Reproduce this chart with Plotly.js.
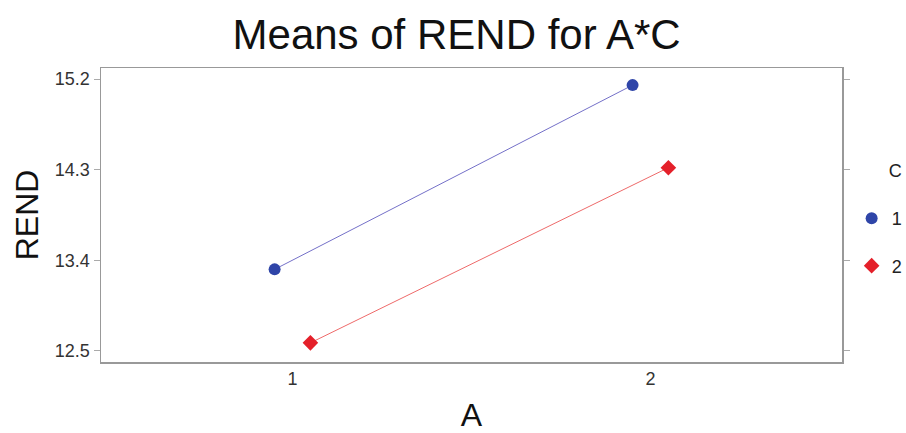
<!DOCTYPE html>
<html><head><meta charset="utf-8">
<script src="https://cdn.plot.ly/plotly-3.0.1.min.js"></script>
<style>html,body{margin:0;padding:0;background:#fff}</style>
</head><body>
<div id="chart" style="width:906px;height:433px"></div>
<script>
const levelsA = [1, 2];
const levelsC = ['1', '2'];
const meansC1 = [13.31, 15.14];
const meansC2 = [12.58, 14.32];
const dodge = [-0.05, 0.05];
const colors = ['#2f45a8', '#e4202a'];
const lineColors = ['#7470c8', '#ee6a6a'];
const symbols = ['circle', 'diamond'];
const series = [meansC1, meansC2];

const traces = [];
series.forEach((ys, i) => {
  const xs = levelsA.map(a => a + dodge[i]);
  traces.push({
    type: 'scatter', mode: 'lines', x: xs, y: ys, showlegend: false,
    line: {color: lineColors[i], width: 1}, hoverinfo: 'skip'
  });
  traces.push({
    type: 'scatter', mode: 'markers', x: xs, y: ys,
    name: levelsC[i], legendgroup: 'g' + i,
    marker: {color: colors[i], symbol: symbols[i], size: 12}
  });
});

const layout = {
  width: 906, height: 433,
  paper_bgcolor: '#ffffff', plot_bgcolor: '#ffffff',
  margin: {l: 101, r: 64, t: 68, b: 71, autoexpand: false},
  font: {family: 'Liberation Sans, Arial, sans-serif', color: '#333'},
  title: {text: 'Means of REND for A*C', x: 0.504, xanchor: 'center', y: 0.92, yanchor: 'middle',
          font: {size: 42, color: '#111'}},
  xaxis: {range: [0.465, 2.535], tickvals: levelsA, ticktext: levelsA.map(String),
          showline: true, linecolor: '#999', linewidth: 1.5, mirror: true, ticks: '',
          showgrid: false, zeroline: false, tickfont: {size: 18, color: '#333'},
          title: {text: 'A', font: {size: 32, color: '#111'}, standoff: 16}},
  yaxis: {range: [12.39, 15.31], tickvals: [12.5, 13.4, 14.3, 15.2], ticktext: ['12.5','13.4','14.3','15.2'],
          showline: true, linecolor: '#999', linewidth: 1.5, mirror: 'ticks', ticks: 'outside',
          ticklen: 6, tickcolor: '#aaa', showgrid: false, zeroline: false,
          tickfont: {size: 18, color: '#333'},
          title: {text: 'REND', font: {size: 32, color: '#111'}, standoff: 6}},
  legend: {x: 1.013, xanchor: 'left', y: 0.71, yanchor: 'top', traceorder: 'grouped', tracegroupgap: 21,
           title: {text: '\u00a0\u00a0\u00a0\u00a0\u00a0\u00a0\u00a0C<br> ', font: {size: 18, color: '#222'}},
           font: {size: 18, color: '#222'},
           itemwidth: 30, bgcolor: 'rgba(0,0,0,0)'},
  showlegend: true
};
Plotly.newPlot('chart', traces, layout, {displayModeBar: false, staticPlot: true});
</script>
</body></html>
